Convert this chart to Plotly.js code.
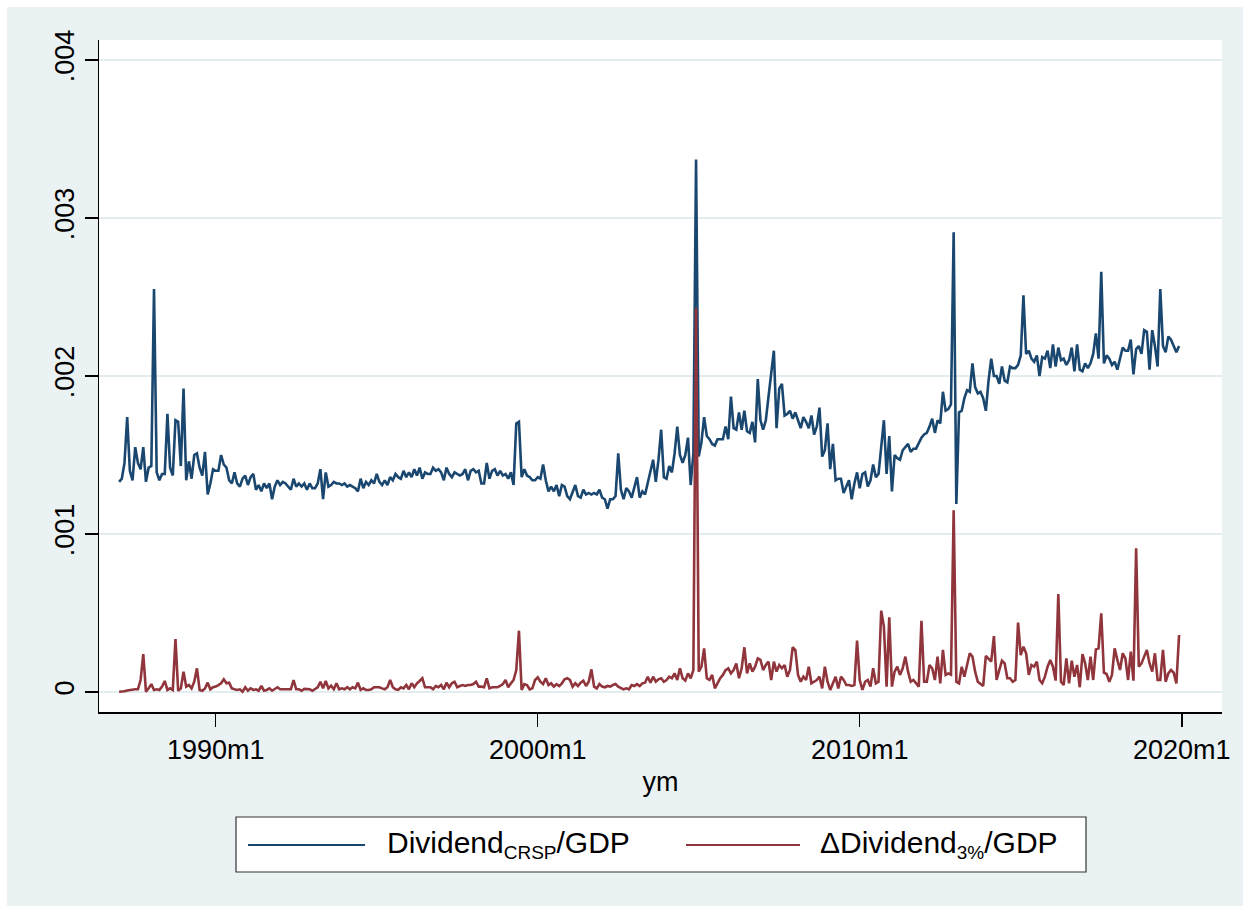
<!DOCTYPE html>
<html>
<head>
<meta charset="utf-8">
<script src="https://cdn.plot.ly/plotly-3.0.1.min.js"></script>
<style>
  html, body { margin: 0; padding: 0; background: #ffffff; }
  #chart { position: absolute; left: 7px; top: 7px; width: 1236px; height: 899px; }
</style>
</head>
<body>
<div id="chart"></div>
<script>
// Monthly series, 1987m1 .. 2019m12 (Stata monthly date: 1987m1 = 324)
const startMonth = 324;

// Dividend (CRSP) / GDP, one row per year
const dividendCRSP = [
  .00133,.00135,.00145,.00174,.00140,.00134,.00155,.00145,.00141,.00155,.00133,.00142, // 1987
  .00143,.00255,.00139,.00134,.00138,.00138,.00176,.00142,.00137,.00172,.00171,.00143, // 1988
  .00192,.00134,.00146,.00135,.00150,.00151,.00142,.00137,.00152,.00125,.00132,.00141, // 1989
  .00140,.00140,.00150,.00144,.00142,.00134,.00132,.00139,.00132,.00130,.00135,.00137, // 1990
  .00131,.00136,.00138,.00128,.00131,.00127,.00132,.00129,.00132,.00122,.00130,.00134, // 1991
  .00131,.00133,.00132,.00130,.00128,.00135,.00130,.00132,.00130,.00132,.00128,.00132, // 1992
  .00129,.00129,.00132,.00141,.00122,.00139,.00130,.00131,.00133,.00132,.00132,.00131, // 1993
  .00132,.00130,.00131,.00130,.00129,.00127,.00135,.00129,.00133,.00131,.00134,.00132, // 1994
  .00138,.00133,.00131,.00134,.00131,.00136,.00134,.00138,.00136,.00135,.00140,.00136, // 1995
  .00139,.00136,.00141,.00137,.00142,.00135,.00139,.00138,.00138,.00142,.00140,.00141, // 1996
  .00139,.00134,.00142,.00138,.00136,.00139,.00138,.00137,.00138,.00141,.00134,.00140, // 1997
  .00141,.00139,.00140,.00132,.00132,.00145,.00135,.00140,.00141,.00137,.00140,.00137, // 1998
  .00138,.00135,.00139,.00131,.00170,.00171,.00136,.00141,.00137,.00136,.00134,.00134, // 1999
  .00136,.00135,.00144,.00134,.00127,.00130,.00127,.00131,.00124,.00131,.00130,.00124, // 2000
  .00122,.00126,.00131,.00124,.00123,.00128,.00125,.00126,.00125,.00126,.00125,.00128, // 2001
  .00123,.00122,.00116,.00122,.00122,.00124,.00151,.00128,.00122,.00129,.00127,.00123, // 2002
  .00130,.00136,.00123,.00127,.00125,.00132,.00141,.00147,.00133,.00147,.00166,.00136, // 2003
  .00135,.00143,.00139,.00151,.00168,.00150,.00145,.00150,.00161,.00131,.00151,.00337, // 2004
  .00149,.00158,.00174,.00162,.00160,.00157,.00156,.00160,.00160,.00160,.00168,.00160, // 2005
  .00187,.00167,.00166,.00177,.00166,.00178,.00165,.00164,.00171,.00158,.00198,.00172, // 2006
  .00166,.00172,.00187,.00202,.00216,.00167,.00192,.00195,.00175,.00176,.00178,.00173, // 2007
  .00177,.00172,.00167,.00174,.00171,.00167,.00175,.00163,.00168,.00180,.00149,.00153, // 2008
  .00170,.00141,.00157,.00134,.00135,.00135,.00126,.00130,.00134,.00122,.00132,.00139, // 2009
  .00129,.00138,.00139,.00130,.00134,.00144,.00136,.00138,.00157,.00172,.00138,.00162, // 2010
  .00127,.00150,.00148,.00147,.00153,.00155,.00157,.00152,.00154,.00154,.00158,.00161, // 2011
  .00163,.00164,.00168,.00173,.00164,.00172,.00170,.00190,.00178,.00179,.00182,.00291, // 2012
  .00119,.00177,.00178,.00186,.00191,.00190,.00208,.00193,.00189,.00190,.00186,.00178, // 2013
  .00197,.00211,.00200,.00200,.00195,.00206,.00197,.00196,.00206,.00205,.00205,.00207, // 2014
  .00213,.00251,.00214,.00216,.00211,.00209,.00213,.00200,.00212,.00211,.00216,.00205, // 2015
  .00220,.00206,.00218,.00210,.00211,.00207,.00210,.00218,.00203,.00220,.00204,.00203, // 2016
  .00208,.00205,.00208,.00214,.00227,.00211,.00266,.00208,.00213,.00211,.00207,.00209, // 2017
  .00204,.00211,.00218,.00216,.00216,.00223,.00201,.00217,.00219,.00214,.00229,.00228, // 2018
  .00204,.00229,.00219,.00206,.00255,.00219,.00215,.00225,.00223,.00219,.00215,.00219  // 2019
];

// Change in dividends (3% threshold) / GDP, one row per year
const deltaDividend3 = [
  .000002,.000003,.000005,.000010,.000013,.000017,.000017,.000017,.000076,.000240,.000002,.000023, // 1987
  .000050,.000013,.000017,.000013,.000034,.000070,.000013,.000023,.000013,.000335,.000008,.000023, // 1988
  .000129,.000034,.000044,.000023,.000065,.000150,.000013,.000008,.000023,.000059,.000017,.000030, // 1989
  .000034,.000044,.000055,.000080,.000055,.000059,.000023,.000017,.000013,.000017,.000002,.000030, // 1990
  .000008,.000023,.000013,.000017,.000008,.000038,.000008,.000013,.000023,.000008,.000017,.000030, // 1991
  .000017,.000017,.000017,.000017,.000017,.000076,.000017,.000017,.000008,.000020,.000017,.000017, // 1992
  .000008,.000020,.000030,.000065,.000023,.000070,.000023,.000040,.000017,.000055,.000017,.000023, // 1993
  .000017,.000030,.000017,.000030,.000023,.000059,.000013,.000023,.000013,.000013,.000017,.000030, // 1994
  .000030,.000030,.000023,.000017,.000030,.000076,.000030,.000017,.000013,.000030,.000023,.000044, // 1995
  .000017,.000055,.000030,.000055,.000070,.000087,.000030,.000030,.000030,.000017,.000038,.000030, // 1996
  .000044,.000017,.000059,.000030,.000055,.000065,.000030,.000038,.000044,.000038,.000044,.000044, // 1997
  .000050,.000065,.000034,.000034,.000030,.000087,.000023,.000030,.000030,.000030,.000038,.000050, // 1998
  .000076,.000030,.000055,.000076,.000139,.000388,.000013,.000050,.000044,.000017,.000023,.000076, // 1999
  .000093,.000065,.000050,.000087,.000044,.000055,.000034,.000050,.000038,.000055,.000080,.000087, // 2000
  .000076,.000034,.000055,.000038,.000059,.000072,.000038,.000065,.000143,.000034,.000023,.000050, // 2001
  .000034,.000030,.000038,.000034,.000044,.000050,.000034,.000023,.000017,.000023,.000017,.000044, // 2002
  .000038,.000050,.000038,.000055,.000059,.000097,.000059,.000097,.000065,.000080,.000087,.000065, // 2003
  .000076,.000097,.000087,.000118,.000076,.000150,.000087,.000072,.000118,.000087,.000139,.002430, // 2004
  .000129,.000160,.000276,.000087,.000076,.000108,.000023,.000055,.000087,.000108,.000139,.000150, // 2005
  .000118,.000139,.000181,.000087,.000150,.000283,.000118,.000181,.000129,.000160,.000213,.000203, // 2006
  .000139,.000171,.000192,.000076,.000192,.000129,.000171,.000150,.000171,.000097,.000139,.000283, // 2007
  .000266,.000108,.000065,.000097,.000076,.000160,.000055,.000065,.000076,.000097,.000023,.000160, // 2008
  .000065,.000013,.000055,.000097,.000023,.000097,.000076,.000044,.000044,.000038,.000044,.000325, // 2009
  .000076,.000013,.000065,.000076,.000034,.000150,.000055,.000065,.000515,.000414,.000034,.000473, // 2010
  .000034,.000129,.000160,.000108,.000150,.000224,.000129,.000065,.000076,.000055,.000034,.000451, // 2011
  .000065,.000065,.000171,.000150,.000076,.000224,.000055,.000266,.000108,.000118,.000110,.001150, // 2012
  .000065,.000055,.000160,.000097,.000171,.000245,.000224,.000129,.000065,.000050,.000038,.000228, // 2013
  .000213,.000192,.000354,.000076,.000139,.000198,.000181,.000087,.000087,.000065,.000076,.000439, // 2014
  .000234,.000287,.000245,.000108,.000171,.000160,.000192,.000076,.000055,.000097,.000160,.000203, // 2015
  .000160,.000072,.000620,.000065,.000044,.000213,.000055,.000198,.000097,.000171,.000030,.000240, // 2016
  .000181,.000076,.000224,.000076,.000270,.000276,.000498,.000122,.000114,.000065,.000108,.000276, // 2017
  .000203,.000139,.000245,.000213,.000076,.000255,.000072,.000909,.000160,.000181,.000224,.000266, // 2018
  .000181,.000129,.000245,.000076,.000076,.000266,.000065,.000118,.000139,.000122,.000055,.000361  // 2019
];

const xTickVals = [360, 480, 600, 720];
const xTickText = ['1990m1', '2000m1', '2010m1', '2020m1'];
const yTickVals = [0, .001, .002, .003, .004];
const yTickText = ['0', '.001', '.002', '.003', '.004'];
const subStyle = '<span style="font-size:19px">';
const legendLabels = [
  'Dividend<sub>' + subStyle + 'CRSP</span></sub>/GDP',
  '\u0394Dividend<sub>' + subStyle + '3%</span></sub>/GDP'
];

const navy = '#1a476f';
const maroon = '#90353b';
const font = 'Liberation Sans, Arial, Helvetica, sans-serif';

const months = dividendCRSP.map((_, i) => startMonth + i);
const months2 = deltaDividend3.map((_, i) => startMonth + i);

const traces = [
  { x: months, y: dividendCRSP, type: 'scatter', mode: 'lines',
    line: { color: navy, width: 2.6 }, name: 'Dividend CRSP / GDP', showlegend: false },
  { x: months2, y: deltaDividend3, type: 'scatter', mode: 'lines',
    line: { color: maroon, width: 2.6 }, name: 'Delta Dividend 3% / GDP', showlegend: false }
];

// legend box drawn in paper coordinates below the plot area
const lgTop = -0.15625, lgBot = -0.2381, lgMid = -0.1979;
const shapes = [
  { type: 'rect', xref: 'paper', yref: 'paper', x0: 0.1220, x1: 0.8789, y0: lgBot, y1: lgTop,
    line: { color: '#333333', width: 1.2 }, fillcolor: '#ffffff', layer: 'below' },
  { type: 'line', xref: 'paper', yref: 'paper', x0: 0.1327, x1: 0.2369, y0: lgMid, y1: lgMid,
    line: { color: navy, width: 2.2 } },
  { type: 'line', xref: 'paper', yref: 'paper', x0: 0.5227, x1: 0.6242, y0: lgMid, y1: lgMid,
    line: { color: maroon, width: 2.2 } }
];
const annotations = [
  { xref: 'paper', yref: 'paper', x: 0.2547, y: lgMid, xanchor: 'left', yanchor: 'middle',
    text: legendLabels[0], showarrow: false, font: { family: font, size: 30, color: '#000' } },
  { xref: 'paper', yref: 'paper', x: 0.6403, y: lgMid, xanchor: 'left', yanchor: 'middle',
    text: legendLabels[1], showarrow: false, font: { family: font, size: 30, color: '#000' } }
];

const layout = {
  width: 1236, height: 899,
  paper_bgcolor: '#eaf2f3', plot_bgcolor: '#ffffff',
  margin: { l: 92, r: 21, t: 33, b: 194 },
  font: { family: font, color: '#000' },
  showlegend: false,
  xaxis: {
    range: [316.5, 735], tickvals: xTickVals, ticktext: xTickText,
    ticks: 'outside', ticklen: 13, tickwidth: 1.5, tickcolor: '#000',
    showline: true, linecolor: '#000', linewidth: 1.5,
    showgrid: false, zeroline: false,
    tickfont: { family: font, size: 27, color: '#000' },
    title: { text: 'ym', font: { family: font, size: 27, color: '#000' }, standoff: 8 }
  },
  yaxis: {
    range: [-0.0001266, 0.0041266], tickvals: yTickVals, ticktext: yTickText,
    tickangle: -90, ticks: 'outside', ticklen: 13, tickwidth: 1.5, tickcolor: '#000',
    showline: true, linecolor: '#000', linewidth: 1.5,
    showgrid: true, gridcolor: '#e3ecef', gridwidth: 2, zeroline: false,
    tickfont: { family: font, size: 27, color: '#000' }
  },
  shapes: shapes,
  annotations: annotations
};

Plotly.newPlot('chart', traces, layout, { staticPlot: true, displayModeBar: false });
</script>
</body>
</html>
